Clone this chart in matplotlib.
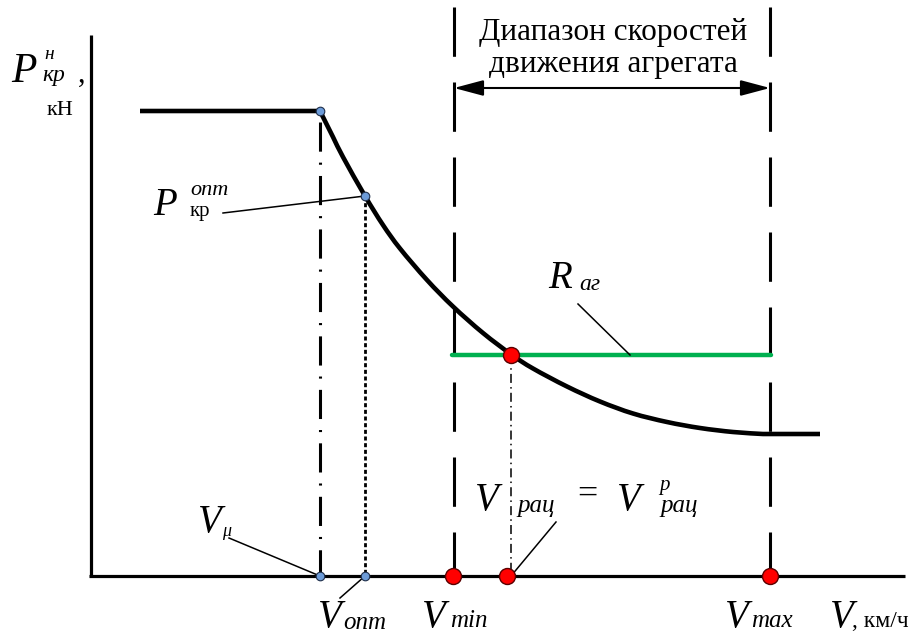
import matplotlib
matplotlib.use("Agg")
import matplotlib.pyplot as plt
from matplotlib.patches import FancyArrowPatch, ArrowStyle, PathPatch
from matplotlib.path import Path

plt.rcParams['lines.scale_dashes'] = False

SERIF = ['Liberation Serif', 'DejaVu Serif']

# Traction characteristic (arbitrary units: speed, drawbar pull)
curve_speed = [229, 242, 252, 274, 292, 309, 336, 362, 392, 421, 442, 476,
               509, 542, 576, 609, 642, 672]
curve_force = [465, 439, 419, 380, 351, 327.5, 296, 269.5, 243, 221, 207.5,
               189.5, 174.5, 162.5, 154, 148, 144, 142]

plateau_speed = [49, 229]
plateau_force = [465, 465]
tail_speed = [672, 729]
tail_force = [142, 142]

V_mu = 229
V_opt = 274
P_opt = 380
V_min = 363
V_max = 679
V_rac = 420
R_ag = 221

fig = plt.figure(figsize=(9.14, 6.37), dpi=100)
ax = fig.add_axes([0, 0, 1, 1])
ax.set_xlim(-91, 823)
ax.set_ylim(-61, 576)
ax.axis('off')

# coordinate axes
ax.plot([-2, 814], [0, 0], color='black', lw=2.3, solid_capstyle='butt', zorder=3)
ax.plot([0, 0], [-1, 541], color='black', lw=2.3, solid_capstyle='butt', zorder=3)

# speed range boundaries
for v in (V_min, V_max):
    ax.plot([v, v], [569, 0], color='black', lw=2.2,
            linestyle=(0, (35.5, 18.5)), dash_capstyle='butt', zorder=2)


def smooth_path(xs, ys, head, tail):
    """Polyline head -> Catmull-Rom curve through (xs, ys) -> polyline tail."""
    pts = list(zip(xs, ys))
    verts = [head[0], pts[0]]
    codes = [Path.MOVETO, Path.LINETO]
    n = len(pts)
    for i in range(n - 1):
        p0 = pts[i - 1] if i > 0 else pts[i]
        p1 = pts[i]
        p2 = pts[i + 1]
        p3 = pts[i + 2] if i + 2 < n else pts[i + 1]
        c1 = (p1[0] + (p2[0] - p0[0]) / 6, p1[1] + (p2[1] - p0[1]) / 6)
        c2 = (p2[0] - (p3[0] - p1[0]) / 6, p2[1] - (p3[1] - p1[1]) / 6)
        verts += [c1, c2, p2]
        codes += [Path.CURVE4] * 3
    verts.append(tail[-1])
    codes.append(Path.LINETO)
    return Path(verts, codes)


# characteristic curve
char_path = smooth_path(curve_speed, curve_force,
                        list(zip(plateau_speed, plateau_force)),
                        list(zip(tail_speed, tail_force)))
ax.add_patch(PathPatch(char_path, fill=False, edgecolor='black', lw=3.3,
                       joinstyle='round', capstyle='butt', zorder=4))

# construction lines
ax.plot([V_mu, V_mu], [454, 0], color='black', lw=2.2,
        linestyle=(0, (21, 7.9, 1.5, 8.1)), dash_capstyle='butt', zorder=2)
ax.plot([V_opt, V_opt], [P_opt, 0], color='black', lw=2.0,
        linestyle=(0, (2.9, 1.9)), dash_capstyle='butt', zorder=2)
ax.plot([V_rac, V_rac], [R_ag, 0], color='black', lw=1.1,
        linestyle=(0, (6.5, 3, 1.1, 3)), dash_capstyle='butt', zorder=2)

# resistance of the unit
ax.plot([V_min - 2, V_max + 1], [R_ag, R_ag], color='#00b050', lw=3.2,
        solid_capstyle='round', zorder=3)

# leader lines
leaders = [((132, 363), (V_opt, P_opt)),
           ((138, 38), (V_mu, 0)),
           ((249, -22), (V_opt, 0)),
           ((487, 272), (539, R_ag)),
           ((465, 54), (V_rac, 0))]
for (x0, y0), (x1, y1) in leaders:
    ax.plot([x0, x1], [y0, y1], color='black', lw=1.1, zorder=5)

# points
blue_x = [V_mu, V_opt, V_mu, V_opt]
blue_y = [465, P_opt, 0, 0]
ax.plot(blue_x, blue_y, 'o', ms=6.2, mfc='#6c9bd8', mec='#1f2f4a', mew=0.8, zorder=6)
red_x = [V_rac, V_min - 1, V_rac - 4, V_max]
red_y = [R_ag, 0, 0, 0]
ax.plot(red_x, red_y, 'o', ms=11.5, mfc='#ff0000', mec='#5a0000', mew=1.0, zorder=6)

# range arrow
arrow = FancyArrowPatch((V_min, 488), (V_max, 488),
                        arrowstyle=ArrowStyle('<|-|>', head_length=18, head_width=4.8),
                        mutation_scale=1, shrinkA=0, shrinkB=0,
                        color='black', lw=1.5, zorder=5)
ax.add_patch(arrow)

ax.text(522, 536, 'Диапазон скоростей', family=SERIF, fontsize=22.5,
        ha='center', va='baseline')
ax.text(522, 504, 'движения агрегата', family=SERIF, fontsize=22.5,
        ha='center', va='baseline')


def label(x, y, s, size, italic=True, **kw):
    ax.text(x, y, s, family=SERIF, fontsize=size,
            style='italic' if italic else 'normal', ha='left', va='baseline',
            zorder=7, **kw)


# y-axis label
label(-80, 494, 'P', 30)
label(-47, 517, 'н', 14)
label(-49, 495, 'кр', 17)
label(-13, 494, ',', 22, italic=False)
label(-44, 461, 'кН', 16, italic=False)

# optimal pull
label(62, 361, 'P', 28)
label(99, 381, 'опт', 16)
label(99, 360, 'кр', 15, italic=False)

# axis markers
label(107, 44, 'V', 28)
label(131, 40, 'μ', 13)

label(227, -51, 'V', 28)
label(252, -53, 'опт', 18)

label(331, -51, 'V', 28)
label(359, -51, 'min', 18)

label(634, -51, 'V', 28)
label(660, -51, 'max', 18)

label(739, -51, 'V', 28)
label(761, -51, ', км/ч', 17, italic=False)

# rational speed
label(384, 66, 'V', 28)
label(426, 64, 'рац', 18)
label(486, 72, '=', 26, italic=False)
label(526, 66, 'V', 28)
label(568, 86, 'р', 15)
label(569, 64, 'рац', 18)

# resistance label
label(457, 288, 'R', 28)
label(488, 286, 'аг', 17)

fig.savefig('out.png', dpi=100, facecolor='white')
